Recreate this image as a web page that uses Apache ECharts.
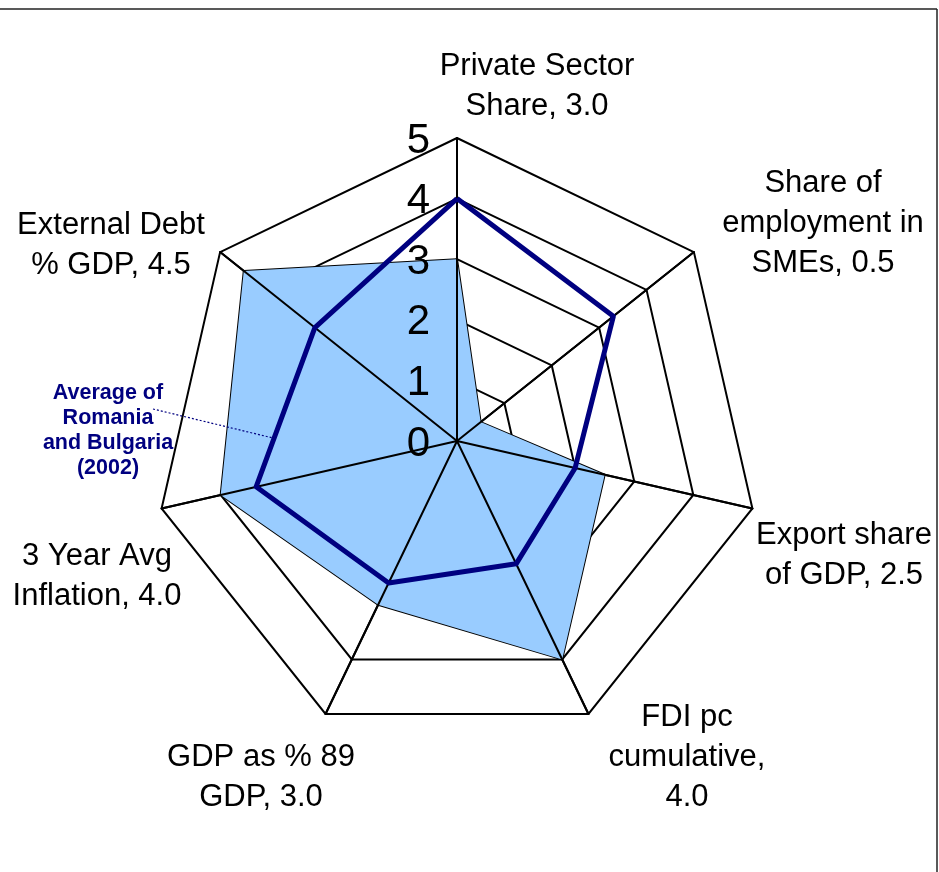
<!DOCTYPE html>
<html>
<head>
<meta charset="utf-8">
<script src="https://cdn.jsdelivr.net/npm/echarts@6/dist/echarts.min.js"></script>
<style>
html,body{margin:0;padding:0;background:#fff;}
#chart{width:939px;height:872px;}
</style>
</head>
<body>
<div id="chart"></div>
<script>
// Indicators listed counter-clockwise starting from the top (ECharts radar order)
const categories = [
  'Private Sector\nShare, 3.0',
  'External Debt\n% GDP, 4.5',
  '3 Year Avg\nInflation, 4.0',
  'GDP as % 89\nGDP, 3.0',
  'FDI pc\ncumulative,\n4.0',
  'Export share\nof GDP, 2.5',
  'Share of\nemployment in\nSMEs, 0.5'
];
const countryValues = [3.0, 4.5, 4.0, 3.0, 4.0, 2.5, 0.5];
const averageValues = [4.0, 3.0, 3.4, 2.6, 2.25, 2.0, 3.3];
const axisMax = 5;
const tickLabels = ['0', '1', '2', '3', '4', '5'];
const averageLabel = 'Average of\nRomania\nand Bulgaria\n(2002)';

// where each category name block is centred (layout only)
const namePositions = [
  [537, 86],
  [111, 245],
  [97, 576],
  [261, 777],
  [687, 757],
  [844, 555],
  [823, 223]
];

const FONT = '"Liberation Sans", Arial, sans-serif';

const baseIndicators = categories.map((c) => ({ name: c, max: axisMax, min: 0 }));
const overlayIndicators = categories.map((c, i) => ({
  name: c,
  max: axisMax,
  min: 0,
  axisLabel: { show: i === 0 }
}));

const nameTexts = categories.map((c, i) => ({
  type: 'text',
  z: 10,
  style: {
    text: c,
    x: namePositions[i][0],
    y: namePositions[i][1],
    align: 'center',
    verticalAlign: 'middle',
    fill: '#000',
    font: '31px ' + FONT,
    lineHeight: 40
  }
}));

const chart = echarts.init(document.getElementById('chart'), null, { renderer: 'canvas' });
chart.setOption({
  backgroundColor: '#ffffff',
  animation: false,
  radar: [
    {
      center: [457, 441],
      radius: 303,
      startAngle: 90,
      splitNumber: 5,
      shape: 'polygon',
      indicator: baseIndicators,
      axisName: { show: false },
      splitLine: { lineStyle: { color: '#000', width: 2 } },
      splitArea: { show: false },
      axisLine: { lineStyle: { color: '#000', width: 2 } },
      axisTick: { show: false },
      axisLabel: { show: false },
      z: 0
    },
    {
      center: [457, 441],
      radius: 303,
      startAngle: 90,
      splitNumber: 5,
      shape: 'polygon',
      indicator: overlayIndicators,
      axisName: { show: false },
      splitLine: { show: false },
      splitArea: { show: false },
      axisLine: { lineStyle: { color: '#000', width: 2 } },
      axisTick: { show: false },
      axisLabel: {
        show: false,
        color: '#000',
        fontFamily: FONT,
        fontSize: 42,
        margin: 27,
        formatter: (v) => '{t|' + tickLabels[Math.round(v)] + '}',
        rich: {
          t: { color: '#000', fontFamily: FONT, fontSize: 42, padding: [6, 0, 0, 0] }
        }
      },
      z: 3
    }
  ],
  series: [
    {
      type: 'radar',
      radarIndex: 0,
      z: 2,
      symbol: 'none',
      lineStyle: { color: '#000', width: 2 },
      areaStyle: { color: '#99CCFF', opacity: 1 },
      data: [{ value: countryValues, name: 'Country' }]
    },
    {
      type: 'radar',
      radarIndex: 0,
      z: 5,
      symbol: 'none',
      lineStyle: { color: '#000080', width: 5 },
      data: [{ value: averageValues, name: 'Average of Romania and Bulgaria (2002)' }]
    }
  ],
  graphic: nameTexts.concat([
    {
      type: 'text',
      z: 10,
      style: {
        text: averageLabel,
        x: 108, y: 431,
        align: 'center',
        verticalAlign: 'middle',
        fill: '#000080',
        font: 'bold 21.5px ' + FONT,
        lineHeight: 25
      }
    },
    {
      type: 'line',
      z: 10,
      shape: { x1: 153, y1: 409, x2: 273, y2: 438 },
      style: { stroke: '#000080', lineWidth: 1.2, lineDash: [2, 2] }
    },
    {
      type: 'line',
      z: 10,
      shape: { x1: 0, y1: 9, x2: 937, y2: 9 },
      style: { stroke: '#222', lineWidth: 1.5 }
    },
    {
      type: 'line',
      z: 10,
      shape: { x1: 937, y1: 9, x2: 937, y2: 872 },
      style: { stroke: '#222', lineWidth: 1.5 }
    }
  ])
});
</script>
</body>
</html>
